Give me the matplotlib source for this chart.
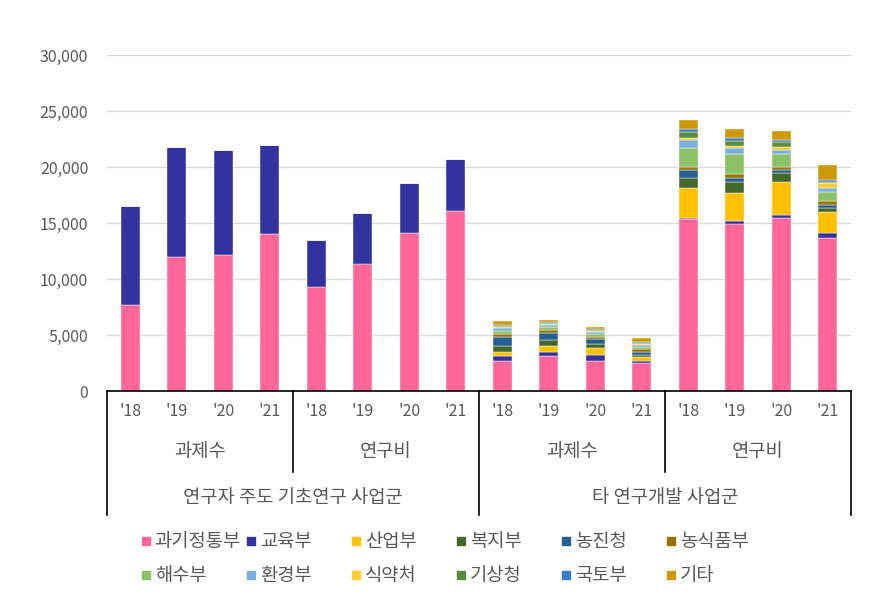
import numpy as np
import matplotlib
matplotlib.use("Agg")
import matplotlib.pyplot as plt
from matplotlib.patches import Rectangle
from matplotlib.ticker import FuncFormatter

plt.rcParams['font.family'] = ['Noto Sans CJK KR', 'DejaVu Sans']

# --- data -------------------------------------------------------------
years = ["'18", "'19", "'20", "'21"] * 4
subgroups = ["과제수", "연구비", "과제수", "연구비"]
groups = ["연구자 주도 기초연구 사업군", "타 연구개발 사업군"]

series = ["과기정통부", "교육부", "산업부", "복지부", "농진청", "농식품부",
          "해수부", "환경부", "식약처", "기상청", "국토부", "기타"]
colors = ["#FF6699", "#3333A0", "#FFC000", "#43682B", "#255E91", "#997300",
          "#8CC168", "#7CAFDD", "#FFCD33", "#5B8C3A", "#3A7CC4", "#CC9A06"]

# values per category (16 bars), one list per ministry
msit      = [7700, 12000, 12100, 14000, 9300, 11300, 14100, 16100,
             2710, 3130, 2710, 2460, 15360, 14910, 15450, 13680]
moe       = [8800, 9800, 9400, 7950, 4150, 4600, 4450, 4600,
             420, 390, 540, 210, 120, 240, 240, 390]
motie     = [0] * 8 + [390, 540, 570, 350, 2630, 2570, 2960, 1890]
mohw      = [0] * 8 + [540, 460, 420, 150, 930, 960, 840, 420]
rda       = [0] * 8 + [790, 630, 360, 330, 720, 360, 270, 270]
mafra     = [0] * 8 + [270, 300, 190, 240, 270, 300, 270, 270]
mof       = [0] * 8 + [270, 240, 330, 180, 1710, 1800, 1110, 830]
me        = [0] * 8 + [240, 180, 150, 150, 710, 540, 390, 390]
mfds      = [0] * 8 + [120, 120, 90, 90, 150, 210, 240, 390]
kma       = [0] * 8 + [90, 90, 120, 90, 540, 420, 420, 120]
molit     = [0] * 8 + [90, 90, 90, 90, 240, 260, 240, 180]
others    = [0] * 8 + [360, 210, 150, 420, 810, 810, 800, 1320]

values = [msit, moe, motie, mohw, rda, mafra, mof, me, mfds, kma, molit, others]

# --- figure -----------------------------------------------------------
fig = plt.figure(figsize=(8.75, 6.11), dpi=100)
ax = fig.add_axes([107 / 875, 1 - 391 / 611, 744 / 875, 336 / 611])

x = np.arange(len(years))
bottom = np.zeros(len(years))
for name, vals, col in zip(series, values, colors):
    vals = np.array(vals, dtype=float)
    ax.bar(x, vals, width=0.41, bottom=bottom, color=col, label=name,
           edgecolor="white", linewidth=0.3, zorder=3)
    bottom += vals

ax.set_xlim(-0.5, 15.5)
ax.set_ylim(0, 30000)
ax.set_yticks(np.arange(0, 30001, 5000))
ax.yaxis.set_major_formatter(FuncFormatter(lambda v, p: f"{int(v):,}"))
ax.tick_params(axis="y", length=0, pad=13.5, labelsize=11.5, labelcolor="#595959")
ax.set_xticks([])
ax.grid(axis="y", color="#D9D9D9", linewidth=1.0, zorder=0)
for s in ["top", "right", "left"]:
    ax.spines[s].set_visible(False)
ax.spines["bottom"].set_color("black")
ax.spines["bottom"].set_linewidth(1.2)
ax.spines["bottom"].set_zorder(5)

# multi-level category axis
trans = ax.get_xaxis_transform()
y_short = (391 - 472) / 336
y_long = (391 - 515) / 336
for xv, yb in [(-0.5, y_long), (3.5, y_short), (7.5, y_long),
               (11.5, y_short), (15.5, y_long)]:
    ax.plot([xv, xv], [0, yb], transform=trans, color="black",
            linewidth=1.2, clip_on=False)

txt = dict(color="#595959", ha="center", va="center", transform=trans)
for xi, lab in zip(x, years):
    ax.text(xi, (391 - 411) / 336, lab, fontsize=11.5, **txt)
for i, lab in enumerate(subgroups):
    ax.text(4 * i + 1.5, (391 - 452) / 336, lab, fontsize=13.5, **txt)
for i, lab in enumerate(groups):
    ax.text(8 * i + 3.5, (391 - 497) / 336, lab, fontsize=13.5, **txt)

# legend laid out in fixed-width columns like the original
for i, (name, col) in enumerate(zip(series, colors)):
    row, c = divmod(i, 6)
    lx = 141.7 + c * 105
    ly = 541 + row * 34
    fig.patches.append(Rectangle((lx / 875, 1 - (ly + 4) / 611), 8 / 875, 8 / 611,
                                 transform=fig.transFigure, color=col))
    fig.text((lx + 13) / 875, 1 - ly / 611, name, fontsize=13.5,
             color="#595959", ha="left", va="center")

fig.savefig("out.png", dpi=100)
